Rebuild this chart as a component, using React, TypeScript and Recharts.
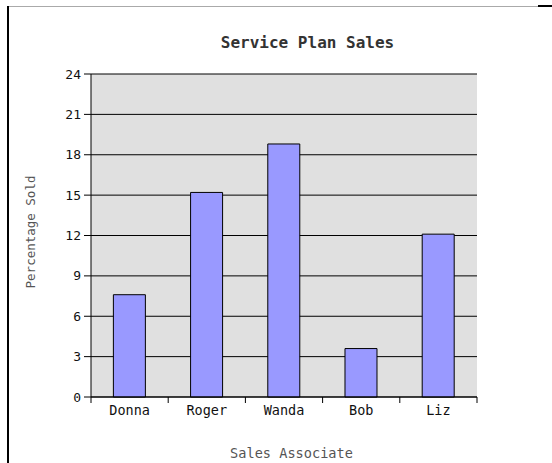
import { Bar, BarChart, CartesianGrid, XAxis, YAxis } from "recharts";

const associates = ["Donna", "Roger", "Wanda", "Bob", "Liz"];
const percentSold = [7.6, 15.2, 18.8, 3.6, 12.1];
const yTicks = [0, 3, 6, 9, 12, 15, 18, 21, 24];

const data = associates.map((name, i) => ({ name, sold: percentSold[i] }));

const MONO = "'DejaVu Sans Mono', monospace";
const X_TICK = 6;
const X_MARGIN = 2;

// category labels at the centre, tick marks on the band edges
function EdgeTick(props: any) {
  const { x, y, payload, index } = props;
  const half = payload?.offset ?? 0;
  const top = y - X_TICK - X_MARGIN;
  const last = index === associates.length - 1;
  return (
    <g>
      <line x1={x - half} x2={x - half} y1={top} y2={top + X_TICK} stroke="#000" />
      {last && <line x1={x + half} x2={x + half} y1={top} y2={top + X_TICK} stroke="#000" />}
      <text x={x} y={y} dy="0.71em" textAnchor="middle" fontFamily={MONO} fontSize={13.5} fill="#111">
        {payload.value}
      </text>
    </g>
  );
}

export default function App() {
  return (
    <div style={{ position: "absolute", left: 0, top: 0, width: 552, height: 463, background: "#fff" }}>
      <div style={{ position: "absolute", left: 7, top: 6, width: 2, height: 457, background: "#000" }} />
      <div style={{ position: "absolute", left: 9, top: 6, width: 529, height: 1, background: "#aaa" }} />
      <div style={{ position: "absolute", left: 538, top: 5, width: 14, height: 1.5, background: "#000" }} />

      <BarChart
        width={552}
        height={463}
        data={data}
        margin={{ top: 74, right: 75, left: 0, bottom: 36 }}
        barCategoryGap="29%"
        style={{ position: "absolute", left: 0, top: 0 }}
      >
        <CartesianGrid horizontal vertical={false} stroke="#000" fill="#e0e0e0" fillOpacity={1} />
        <XAxis
          dataKey="name"
          height={30}
          tickLine={false}
          tickSize={X_TICK}
          tickMargin={X_MARGIN}
          axisLine={{ stroke: "#000" }}
          tick={<EdgeTick />}
          interval={0}
        />
        <YAxis
          width={91}
          domain={[0, 24]}
          ticks={yTicks}
          tickSize={7}
          tickMargin={3}
          axisLine={{ stroke: "#000" }}
          tickLine={{ stroke: "#000" }}
          tick={{ fontFamily: MONO, fontSize: 13, fill: "#111" }}
        />
        <YAxis
          yAxisId="frame"
          orientation="right"
          width={0}
          domain={[0, 24]}
          ticks={yTicks}
          tick={false}
          tickLine={false}
          axisLine={{ stroke: "#000" }}
        />
        <Bar dataKey="sold" fill="#9999ff" stroke="#000" strokeWidth={1} isAnimationActive={false} />
      </BarChart>

      <div
        style={{
          position: "absolute",
          left: 307.5,
          top: 35,
          transform: "translateX(-50%)",
          fontFamily: MONO,
          fontWeight: "bold",
          fontSize: 16,
          lineHeight: "16px",
          color: "#333",
          whiteSpace: "nowrap",
        }}
      >
        Service Plan Sales
      </div>
      <div
        style={{
          position: "absolute",
          left: 291.5,
          top: 445,
          transform: "translateX(-50%)",
          fontFamily: MONO,
          fontSize: 13.6,
          lineHeight: "16px",
          color: "#555",
          whiteSpace: "nowrap",
        }}
      >
        Sales Associate
      </div>
      <div
        style={{
          position: "absolute",
          left: 31,
          top: 232,
          transform: "translate(-50%, -50%) rotate(-90deg)",
          fontFamily: MONO,
          fontSize: 12.5,
          lineHeight: "14px",
          color: "#555",
          whiteSpace: "nowrap",
        }}
      >
        Percentage Sold
      </div>
    </div>
  );
}
